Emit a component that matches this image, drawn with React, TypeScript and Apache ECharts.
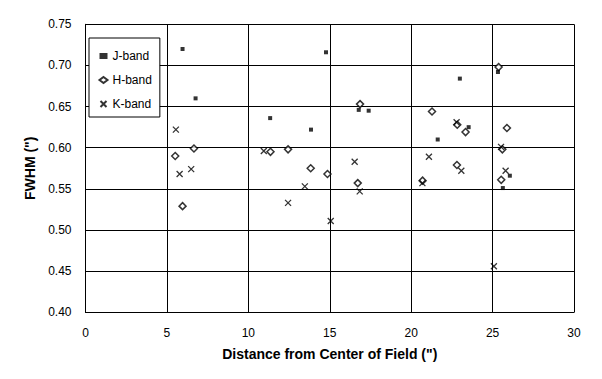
import React, { useEffect, useRef } from "react";
import * as echarts from "echarts";

const jBand: [number, number][] = [
  [5.96, 0.72], [6.76, 0.66], [14.77, 0.716], [11.34, 0.636], [13.85, 0.622],
  [16.78, 0.646], [17.39, 0.645], [22.99, 0.684], [25.33, 0.692], [23.53, 0.625],
  [21.63, 0.61], [26.06, 0.566], [25.63, 0.551],
];
const hBand: [number, number][] = [
  [5.51, 0.59], [6.66, 0.599], [5.96, 0.529], [16.86, 0.653], [11.36, 0.595],
  [12.44, 0.598], [13.83, 0.575], [14.86, 0.568], [16.72, 0.557], [25.37, 0.698],
  [21.28, 0.644], [22.83, 0.628], [23.34, 0.619], [25.88, 0.624], [25.6, 0.598],
  [22.81, 0.579], [20.7, 0.56], [25.53, 0.561],
];
const kBand: [number, number][] = [
  [5.55, 0.622], [5.78, 0.568], [6.49, 0.574], [10.95, 0.596], [16.53, 0.583],
  [13.47, 0.553], [16.84, 0.547], [12.44, 0.533], [15.06, 0.511], [22.79, 0.631],
  [25.52, 0.601], [21.09, 0.589], [23.08, 0.572], [20.69, 0.557], [25.8, 0.572],
  [25.08, 0.456],
];
const seriesNames = ["J-band", "H-band", "K-band"];
const xTitle = "Distance from Center of Field (\")";
const yTitle = "FWHM (\")";

const FONT = "Arial, 'Liberation Sans', sans-serif";

export default function App() {
  const ref = useRef<HTMLDivElement>(null);
  useEffect(() => {
    if (!ref.current) return;
    const chart = echarts.init(ref.current, undefined, { renderer: "svg" });
    chart.setOption({
      animation: false,
      backgroundColor: "#ffffff",
      grid: { left: 85.5, right: 28, top: 24.3, bottom: 66.7, show: false },
      legend: {
        orient: "vertical",
        left: 89,
        top: 38,
        padding: [11, 8, 6, 9],
        itemWidth: 8,
        itemHeight: 6,
        itemGap: 10,
        borderColor: "#000",
        borderWidth: 1,
        backgroundColor: "#fff",
        textStyle: { fontFamily: FONT, fontSize: 12, color: "#000", lineHeight: 14 },
        data: seriesNames,
      },
      xAxis: {
        type: "value",
        min: 0,
        max: 30,
        interval: 5,
        name: xTitle,
        nameLocation: "middle",
        nameGap: 35,
        nameTextStyle: { fontFamily: FONT, fontSize: 14, fontWeight: "bold", color: "#000" },
        axisLine: { show: true, lineStyle: { color: "#000", width: 1 } },
        axisTick: { show: false },
        axisLabel: { margin: 15, fontFamily: FONT, fontSize: 12, color: "#000" },
        splitLine: { show: true, lineStyle: { color: "#000", width: 1 } },
      },
      yAxis: {
        type: "value",
        min: 0.4,
        max: 0.75,
        interval: 0.05,
        name: yTitle,
        nameLocation: "middle",
        nameGap: 48,
        nameTextStyle: { fontFamily: FONT, fontSize: 14, fontWeight: "bold", color: "#000" },
        axisLine: { show: true, lineStyle: { color: "#000", width: 1 } },
        axisTick: { show: false },
        axisLabel: {
          margin: 14,
          fontFamily: FONT,
          fontSize: 12,
          color: "#000",
          formatter: (v: number) => v.toFixed(2),
        },
        splitLine: { show: true, lineStyle: { color: "#000", width: 1 } },
      },
      series: [
        {
          name: seriesNames[0],
          type: "scatter",
          data: jBand,
          symbol: "rect",
          symbolSize: 4,
          itemStyle: { color: "#000" },
          z: 3,
        },
        {
          name: seriesNames[1],
          type: "scatter",
          data: hBand,
          symbol: "diamond",
          symbolSize: 7,
          itemStyle: { color: "#fff", borderColor: "#000", borderWidth: 1.5 },
          z: 2,
        },
        {
          name: seriesNames[2],
          type: "scatter",
          data: kBand,
          symbol: "path://M0,0L10,10M10,0L0,10",
          symbolSize: 6,
          itemStyle: { color: "none", borderColor: "#000", borderWidth: 1.3 },
          z: 4,
        },
      ],
    });
    return () => chart.dispose();
  }, []);
  return (
    <div
      ref={ref}
      style={{ position: "fixed", left: 0, top: 0, width: 602, height: 379, background: "#fff" }}
    />
  );
}
